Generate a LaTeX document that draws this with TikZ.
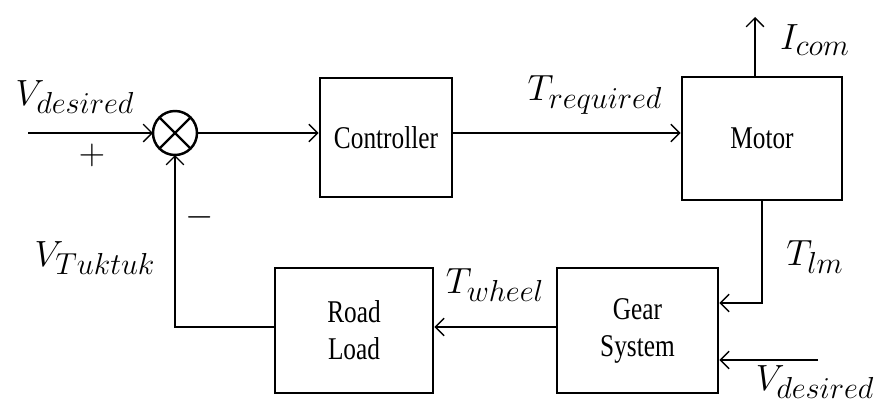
\documentclass[tikz,border=0pt]{standalone}
\usepackage{fontspec}
\setmainfont{Liberation Serif}
\usepackage{graphicx}
\usetikzlibrary{
    arrows.meta,
    positioning
}
\tikzset{
    every picture/.style = {
        > = {Straight Barb[length = 5pt, width = 10pt]},
        line width = 0.8pt
    },
    block/.style = {
        draw,
        line width = 1.6pt,
        minimum width = 3.2cm,
        minimum height = 2.45cm,
        align = center,
        font = {\fontsize{18}{21}\selectfont}
    },
    sum/.style = {
        draw,
        circle,
        line width = 1.4pt,
        outer sep = 0pt,
        minimum size = 0.88cm
    },
    sig/.style = {
        inner sep = 1pt,
        font = \huge
    }
}
% tall, narrow block text
\newcommand{\narrow}[1]{\scalebox{0.8}[1]{#1}}
% signal name with a large subscript
\newcommand{\signal}[2]{$#1_{\mbox{\LARGE$#2$}}$}

\begin{document}
\begin{tikzpicture}
    % \draw[step = 1cm, lightgray, very thin] (0, 0) grid (17.52, 8.1);
    \useasboundingbox (0, 0) rectangle (17.52, 8.1);

    \node[sum] (sum) at (3.5, 5.44) {};
    \draw[line width = 1.4pt] (sum.north west) -- (sum.south east) (sum.north east) -- (sum.south west);

    \node[block, minimum width = 2.64cm, minimum height = 2.38cm] (ctrl) at (7.72, 5.35) {\narrow{Controller}};
    \node[block, minimum height = 2.46cm] (motor) at (15.24, 5.33) {\narrow{Motor}};
    \node[block, minimum width = 3.22cm, minimum height = 2.5cm] (gear) at (12.75, 1.49) {\narrow{Gear}\\\narrow{System}};
    \node[block, minimum width = 3.16cm, minimum height = 2.5cm] (road) at (7.08, 1.49) {\narrow{Road}\\\narrow{Load}};

    \coordinate (vin) at (0.56, 5.44);
    \coordinate (icom) at (15.1, 7.76);
    \coordinate (vgear) at (16.36, 0.9);

    \draw[->] (vin) -- (sum);
    \draw[->] (sum.east) -- (sum.east -| ctrl.west);
    \draw[->] (ctrl.east |- sum) -- (motor.west |- sum);
    \draw[->] (icom |- motor.north) -- (icom);
    \draw[->] (motor.south) |- ([yshift = 0.55cm]gear.east);
    \draw[->] (vgear) -- (vgear -| gear.east);
    \draw[->] (gear.west |- 0, 1.56) -- (road.east |- 0, 1.56);
    \draw[->] (road.west |- 0, 1.56) -| (sum.south);

    \node[sig] (vd) at (1.5, 6.16) {\signal{V}{desired}};
    \node[sig] (plus) at (1.84, 5.0) {$+$};
    \node[sig] (minus) at (4.0, 3.76) {$-$};
    \node[sig] (treq) at (11.9, 6.2) {\signal{T}{required}};
    \node[sig] (ic) at (16.3, 7.3) {\signal{I}{com}};
    \node[sig] (tlm) at (16.3, 2.96) {\signal{T}{lm}};
    \node[sig] (tw) at (9.9, 2.4) {\signal{T}{wheel}};
    \node[sig] (vd2) at (16.3, 0.46) {\signal{V}{desired}};
    \node[sig] (vt) at (1.9, 2.94) {\signal{V}{Tuktuk}};
\end{tikzpicture}
\end{document}
